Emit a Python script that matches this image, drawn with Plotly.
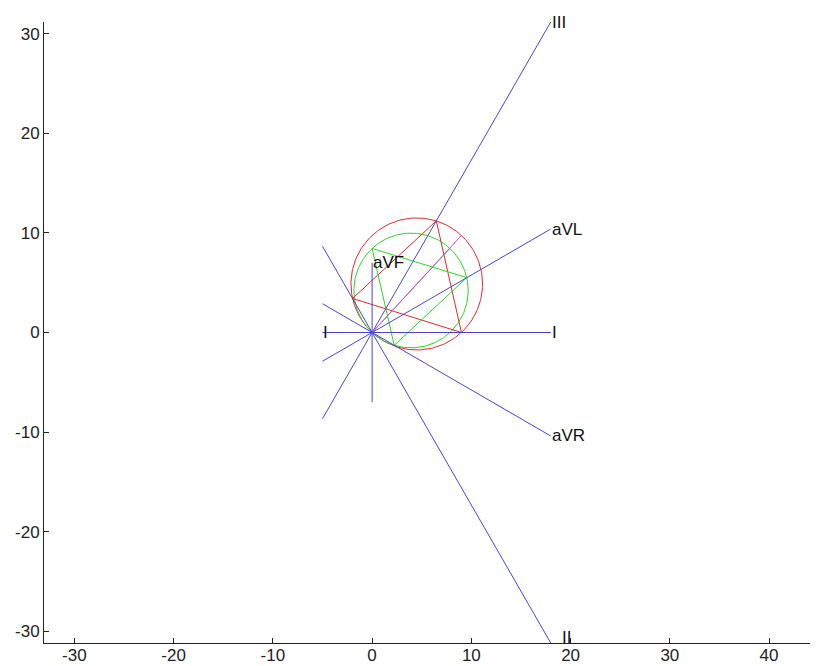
import numpy as np
import plotly.graph_objects as go

# ---- data ----
# Lead axes: positive end (labelled) and negative end
lead_names = ["I", "aVL", "III", "II", "aVR"]
lead_pos_x = [18.0, 18.0, 18.0, 18.0, 18.0]
lead_pos_y = [0.0, 10.39, 31.18, -31.18, -10.39]
lead_neg_x = [-5.0, -5.0, -5.0, -5.0, -5.0]
lead_neg_y = [0.0, -2.89, -8.66, 8.66, 2.89]

# aVF (vertical) axis
avf_x = [0.0, 0.0]
avf_y = [-7.0, 7.0]
avf_label_xy = (0.0, 7.0)

# Extra label at the negative end of lead I
neg_label = "I"
neg_label_xy = (-5.0, 0.0)

# Red: limb-lead projection triangle and its circle (diameter O -> V)
red_tri_x = [9.0, 6.47, -1.97, 9.0]
red_tri_y = [0.0, 11.21, 3.42, 0.0]
red_circle_center = (4.5, 4.875)
red_circle_radius = 6.63

# Green: augmented-lead projection triangle and its circle (diameter O -> W)
green_tri_x = [0.0, 9.54, 2.23, 0.0]
green_tri_y = [8.44, 5.51, -1.29, 8.44]
green_circle_center = (3.925, 4.22)
green_circle_radius = 5.76

# Vectors from origin
green_vec_x = [0.0, 7.85]
green_vec_y = [0.0, 8.44]
mag_vec_x = [0.0, 9.0]
mag_vec_y = [0.0, 9.75]

x_ticks = [-30, -20, -10, 0, 10, 20, 30, 40]
x_tick_text = ["-30", "-20", "-10", "0", "10", "20", "30", "40"]
y_ticks = [-30, -20, -10, 0, 10, 20, 30]
y_tick_text = ["-30", "-20", "-10", "0", "10", "20", "30"]
x_range = [-33.06, 44.93]
y_range = [-31.18, 31.18]

# ---- styles ----
BLUE = "rgb(70,70,210)"
RED = "rgb(230,40,40)"
GREEN = "rgb(40,215,40)"
MAGENTA = "rgb(230,60,230)"
FONT = "Liberation Sans, Arial, sans-serif"

fig = go.Figure()


def circle_pts(center, r, n=240):
    t = np.linspace(0, 2 * np.pi, n)
    return center[0] + r * np.cos(t), center[1] + r * np.sin(t)


cx, cy = circle_pts(red_circle_center, red_circle_radius)
fig.add_trace(go.Scatter(x=cx, y=cy, mode="lines", line=dict(color=RED, width=1), hoverinfo="skip"))
gx, gy = circle_pts(green_circle_center, green_circle_radius)
fig.add_trace(go.Scatter(x=gx, y=gy, mode="lines", line=dict(color=GREEN, width=1), hoverinfo="skip"))

fig.add_trace(go.Scatter(x=red_tri_x, y=red_tri_y, mode="lines", line=dict(color=RED, width=1), hoverinfo="skip"))
fig.add_trace(go.Scatter(x=green_tri_x, y=green_tri_y, mode="lines", line=dict(color=GREEN, width=1), hoverinfo="skip"))
fig.add_trace(go.Scatter(x=green_vec_x, y=green_vec_y, mode="lines", line=dict(color=GREEN, width=1), hoverinfo="skip"))

# Blue lead axes
for name, px, py, nx, ny in zip(lead_names, lead_pos_x, lead_pos_y, lead_neg_x, lead_neg_y):
    fig.add_trace(go.Scatter(x=[nx, px], y=[ny, py], mode="lines",
                             line=dict(color=BLUE, width=1), hoverinfo="skip"))
fig.add_trace(go.Scatter(x=avf_x, y=avf_y, mode="lines", line=dict(color=BLUE, width=1), hoverinfo="skip"))

fig.add_trace(go.Scatter(x=mag_vec_x, y=mag_vec_y, mode="lines", line=dict(color=MAGENTA, width=1), hoverinfo="skip"))

# Labels
LABEL_FONT = dict(family=FONT, size=17, color="#111")
annots = []
for name, px, py in zip(lead_names, lead_pos_x, lead_pos_y):
    xs, ys = (9, 6) if name == "II" else (-1, 0)
    annots.append(dict(x=px, y=py, text=name, showarrow=False, xanchor="left", yanchor="middle",
                       xshift=xs, yshift=ys, font=LABEL_FONT))
annots.append(dict(x=avf_label_xy[0], y=avf_label_xy[1], text="aVF", showarrow=False,
                   xanchor="left", yanchor="middle", xshift=-1, font=LABEL_FONT))
annots.append(dict(x=neg_label_xy[0], y=neg_label_xy[1], text=neg_label, showarrow=False,
                   xanchor="left", yanchor="middle", xshift=-1, font=LABEL_FONT))

# The page body adds an 8px offset, so margins/size are reduced accordingly
fig.update_layout(
    width=810, height=658,
    margin=dict(l=36, r=0, t=14, b=23, autoexpand=False),
    paper_bgcolor="white", plot_bgcolor="white",
    showlegend=False,
    annotations=annots,
    font=dict(family=FONT, size=17, color="#222"),
)
axis_common = dict(showgrid=False, zeroline=False, showline=True, linecolor="#222", linewidth=1,
                   ticks="inside", ticklen=5, tickcolor="#222", mirror=False, automargin=False,
                   tickfont=dict(family=FONT, size=17, color="#222"))
fig.update_xaxes(range=x_range, tickmode="array", tickvals=x_ticks, ticktext=x_tick_text,
                 ticklabelstandoff=-3, **axis_common)
fig.update_yaxes(range=y_range, tickmode="array", tickvals=y_ticks, ticktext=y_tick_text, **axis_common)

fig.write_html("out.html")
